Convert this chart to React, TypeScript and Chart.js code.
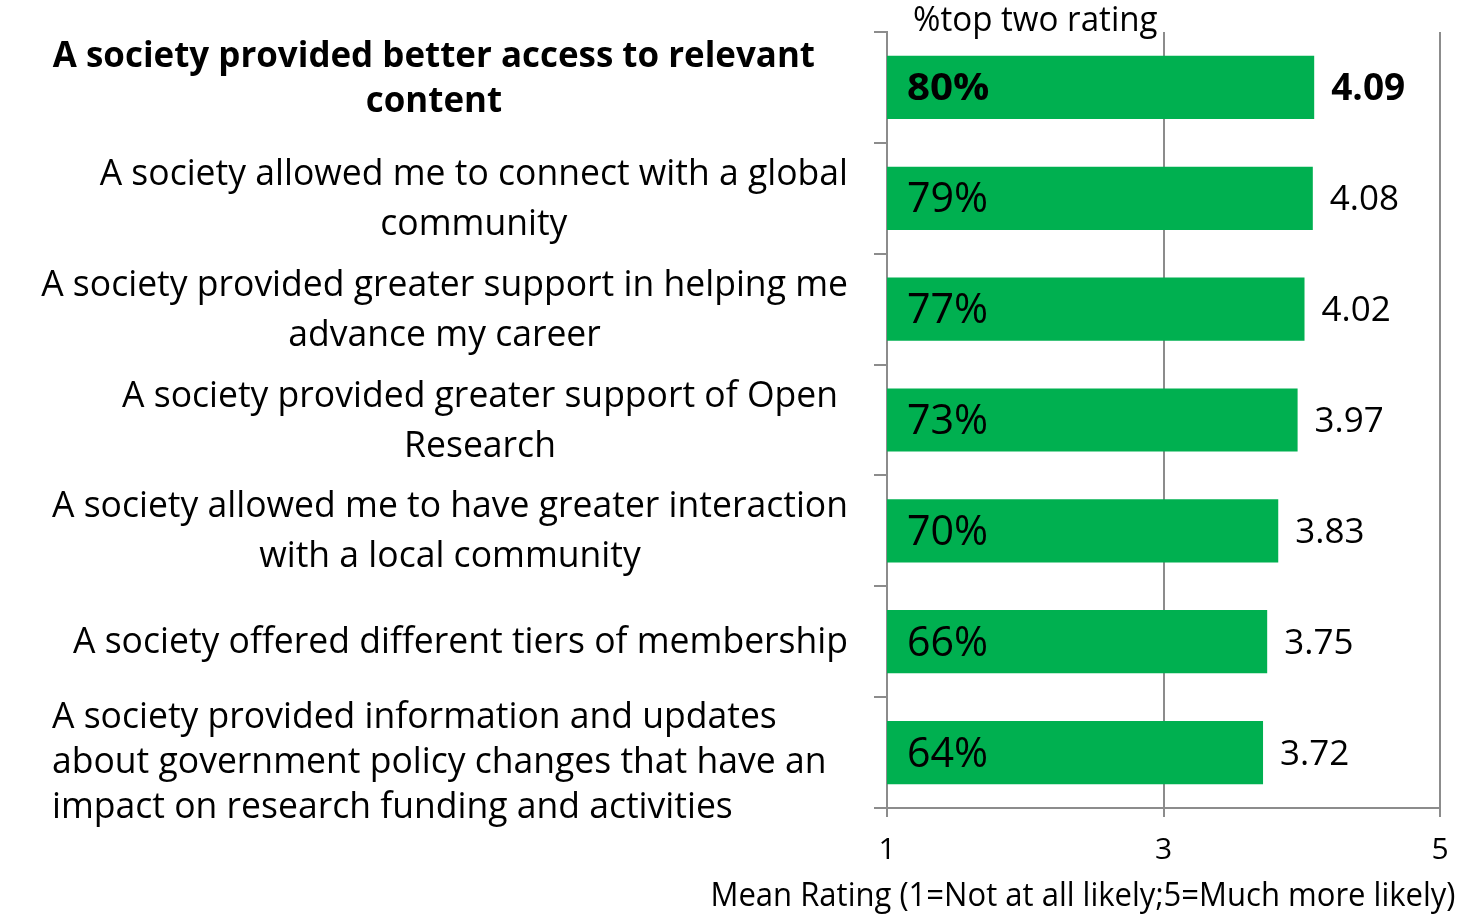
import React, { useEffect, useRef } from "react";
import { Chart, registerables } from "chart.js";

Chart.register(...registerables);

const categoryLines: string[][] = [
  ["A society provided better access to relevant", "content"],
  ["A society allowed me to connect with a global", "community"],
  ["A society provided greater support in helping me", "advance my career"],
  ["A society provided greater support of Open", "Research"],
  ["A society allowed me to have greater interaction", "with a local community"],
  ["A society offered different tiers of membership"],
  [
    "A society provided information and updates",
    "about government policy changes that have an",
    "impact on research funding and activities",
  ],
];
const meanRatings: number[] = [4.09, 4.08, 4.02, 3.97, 3.83, 3.75, 3.72];
const topTwoPct: number[] = [80, 79, 77, 73, 70, 66, 64];
const xTicks: number[] = [1, 3, 5];
const chartTitle = "%top two rating";
const xAxisTitle = "Mean Rating (1=Not at all likely;5=Much more likely)";

const FONT = "'Open Sans', 'Noto Sans', sans-serif";
const GREEN = "#00B050";
const GRID = "#8c8c8c";

function drawText(
  ctx: CanvasRenderingContext2D,
  text: string,
  x: number,
  y: number,
  font: string,
  sx: number,
  align: CanvasTextAlign
) {
  ctx.save();
  ctx.font = font;
  ctx.fillStyle = "#000";
  ctx.textBaseline = "middle";
  ctx.textAlign = align;
  ctx.translate(x, y);
  ctx.scale(sx, 1);
  ctx.fillText(text, 0, 0);
  ctx.restore();
}

const textPlugin = {
  id: "customText",
  afterDraw(chart: any) {
    const ctx: CanvasRenderingContext2D = chart.ctx;
    const xs = chart.scales.x;
    const ys = chart.scales.y;

    // title
    drawText(ctx, chartTitle, 913, 21, `34px ${FONT}`, 0.975, "left");
    // x axis title
    drawText(ctx, xAxisTitle, 1083, 897, `32px ${FONT}`, 0.97, "center");

    const labelRight = [815, 848, 848, 838, 848, 848, 0];
    categoryLines.forEach((lines, i) => {
      const bold = i === 0;
      const font = bold ? `bold 36px ${FONT}` : `37px ${FONT}`;
      const sx = bold ? 0.97 : 0.96;
      const lh = bold || lines.length > 2 ? 45 : 50;
      const offset = bold ? -8 : lines.length > 2 ? 10 : 1;
      const cy = ys.getPixelForValue(i) + offset;
      ctx.save();
      ctx.font = font;
      const w = Math.max(...lines.map((l) => ctx.measureText(l).width)) * sx;
      ctx.restore();
      lines.forEach((line, j) => {
        const y = cy + (j - (lines.length - 1) / 2) * lh;
        if (lines.length > 2) {
          drawText(ctx, line, 52, y, font, sx, "left");
        } else {
          drawText(ctx, line, labelRight[i] - w / 2, y, font, sx, "center");
        }
      });
    });

    const x0 = xs.getPixelForValue(1);
    topTwoPct.forEach((p, i) => {
      const cy = ys.getPixelForValue(i);
      const bold = i === 0;
      drawText(
        ctx,
        `${p}%`,
        x0 + 20,
        cy + 2,
        bold ? `bold 37px ${FONT}` : `42px ${FONT}`,
        bold ? 1.09 : 0.98,
        "left"
      );
      const xe = xs.getPixelForValue(meanRatings[i]);
      drawText(
        ctx,
        meanRatings[i].toFixed(2),
        xe + 17,
        cy + 2,
        bold ? `bold 37px ${FONT}` : `35px ${FONT}`,
        1.0,
        "left"
      );
    });
  },
};

export default function App() {
  const ref = useRef<HTMLCanvasElement>(null);
  useEffect(() => {
    document.body.style.margin = "0";
    const chart = new Chart(ref.current!, {
      type: "bar",
      data: {
        labels: categoryLines.map((l) => l.join(" ")),
        datasets: [
          {
            data: meanRatings,
            backgroundColor: GREEN,
            borderWidth: 0,
            barPercentage: 0.57,
            categoryPercentage: 1,
          },
        ],
      },
      options: {
        indexAxis: "y",
        animation: false,
        responsive: false,
        maintainAspectRatio: false,
        layout: { padding: { left: 874, right: 28, top: 32, bottom: 31 } },
        plugins: {
          legend: { display: false },
          tooltip: { enabled: false },
          title: { display: false },
        },
        scales: {
          x: {
            min: 1,
            max: 5,
            afterBuildTicks: (scale: any) => {
              scale.ticks = xTicks.map((v) => ({ value: v }));
            },
            grid: {
              color: GRID,
              lineWidth: 2,
              drawTicks: true,
              tickLength: 9,
            },
            border: { display: true, color: GRID, width: 2 },
            ticks: {
              color: "#000",
              padding: 15,
              font: { family: FONT, size: 30 },
            },
          },
          y: {
            grid: {
              drawOnChartArea: false,
              drawTicks: true,
              tickLength: 13,
              offset: true,
              color: GRID,
              lineWidth: 2,
            },
            border: { display: true, color: GRID, width: 2 },
            ticks: { display: false },
          },
        },
      },
      plugins: [textPlugin],
    });
    return () => chart.destroy();
  }, []);
  return (
    <div style={{ position: "fixed", left: 0, top: 0, width: 1468, height: 914 }}>
      <canvas ref={ref} width={1468} height={914} style={{ width: 1468, height: 914 }} />
    </div>
  );
}
